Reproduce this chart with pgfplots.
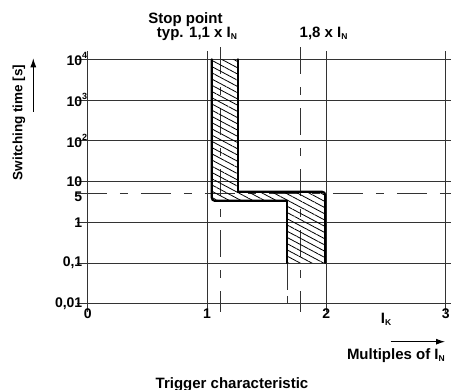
\documentclass[border=0pt]{standalone}
\usepackage{fontspec}
\setmainfont{Liberation Sans}
\usepackage{pgfplots}
\pgfplotsset{compat=1.18}
\usetikzlibrary{patterns.meta, arrows.meta}
\newcommand{\fs}{\fontsize{15bp}{15bp}\selectfont\bfseries}
\newcommand{\tfs}{\fontsize{14bp}{14bp}\selectfont\bfseries}
\newcommand{\yfs}{\fontsize{13.5bp}{13.5bp}\selectfont\bfseries}
\newcommand{\sub}[1]{\raisebox{-2bp}{\fontsize{8.5bp}{8.5bp}\selectfont #1}}
\newcommand{\sups}[1]{\rlap{\raisebox{0.5em}{\fontsize{9bp}{9bp}\selectfont #1}}}
\definecolor{ln}{gray}{0.2}
\begin{document}
\begin{tikzpicture}
\useasboundingbox (0,0) rectangle (451bp,390bp);
\begin{axis}[
  at={(87.7bp,86.3bp)}, anchor=south west,
  scale only axis, width=358bp, height=244.4bp,
  xmin=0, xmax=3, ymin=0.01, ymax=10000, ymode=log, log basis y=10,
  clip=false,
  axis line style={line width=0.9bp, ln},
  xtick={0,1,2,3}, xticklabels={0,1,2,3},
  ytick={0.01,0.1,1,10,100,1000,10000},
  yticklabels={{0,01},{0,1},1,10,10\sups{2},10\sups{3},10\sups{4}},
  extra y ticks={5}, extra y tick labels={5},
  extra y tick style={grid=none, yticklabel style={yshift=-2.5bp}},
  yminorticks=false, xminorticks=false,
  xmajorgrids, ymajorgrids,
  grid style={line width=0.9bp, ln},
  tick align=outside,
  xtick style={line width=0.9bp, ln, /pgfplots/major tick length=8bp},
  ytick style={line width=0.9bp, ln, /pgfplots/major tick length=11bp},
  ticklabel style={font=\tfs},
  yticklabel style={inner sep=1bp},
  xticklabel style={inner sep=1bp},
  /pgf/number format/assume math mode=true,
]
% dashed reference lines
\addplot[line width=0.8bp, ln, dash pattern=on 30bp off 13bp on 8bp off 13bp] coordinates {(-0.09,5) (3,5)};
\addplot[line width=0.8bp, ln, dash pattern=on 27bp off 13bp on 8bp off 13bp] coordinates {(1.11,20000) (1.11,0.00625)};
\addplot[line width=0.8bp, ln, dash pattern=on 27bp off 13bp on 8bp off 13bp] coordinates {(1.78,20000) (1.78,0.00625)};
\addplot[line width=0.8bp, ln, dash pattern=on 27bp off 6bp on 8bp off 6bp] coordinates {(1.67,0.1) (1.67,0.0085)};
% hatched band
\addplot[draw=none, pattern={Lines[angle=-28,distance=5.5bp,line width=0.8bp]}, pattern color=black]
  coordinates {(1.04,10000) (1.04,3.36) (1.67,3.36) (1.67,0.1) (1.99,0.1) (1.99,5.58) (1.26,5.58) (1.26,10000)} -- cycle;
% band borders
\addplot[line width=2.2bp, black, rounded corners=3bp, line cap=round] coordinates {(1.04,10000) (1.04,3.36) (1.67,3.36)};
\addplot[line width=2.2bp, black, line cap=round] coordinates {(1.67,3.36) (1.67,0.1)};
\addplot[line width=2.2bp, black, line cap=round] coordinates {(1.26,10000) (1.26,5.58)};
\addplot[line width=2.2bp, black, rounded corners=3bp, line cap=round] coordinates {(1.26,5.58) (1.99,5.58) (1.99,0.1)};
\node[anchor=north, font=\fs, inner sep=1bp, yshift=-8bp] at (axis cs:2.5,0.01) {I\sub{K}};
\end{axis}
\node[anchor=base, font=\fs, inner sep=0pt] at (185.5bp,366.5bp) {Stop point};
\node[anchor=base, font=\fs, inner sep=0pt] at (197bp,352bp) {typ. 1,1 x I\sub{N}};
\node[anchor=base, font=\fs, inner sep=0pt] at (323.6bp,352bp) {1,8 x I\sub{N}};
\node[rotate=90, font=\yfs, inner sep=0pt] at (19bp,267.5bp) {Switching time [s]};
\draw[-{Latex[length=9bp,width=6bp]}, line width=0.9bp] (33.3bp,278.3bp) -- (33.3bp,331.7bp);
\node[anchor=base east, font=\fs, inner sep=0pt] at (445bp,31bp) {Multiples of I\sub{N}};
\draw[-{Latex[length=9bp,width=6bp]}, line width=0.9bp] (390.7bp,48.3bp) -- (445bp,48.3bp);
\node[anchor=base, font=\fs, inner sep=0pt] at (232bp,2bp) {Trigger characteristic};
\end{tikzpicture}
\end{document}
